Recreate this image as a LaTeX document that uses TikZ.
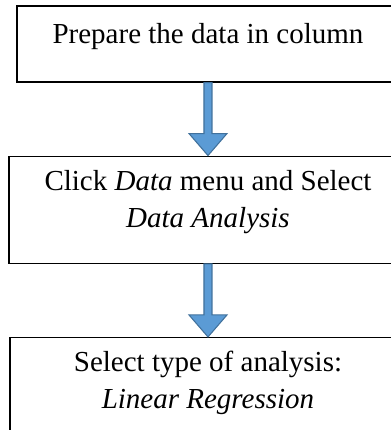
\documentclass[tikz,border=0pt]{standalone}
\usepackage{fontspec}
\setmainfont{Liberation Serif}
\usetikzlibrary{positioning, calc}

\definecolor{arrowfill}{HTML}{5B9BD5}
\definecolor{arrowedge}{HTML}{41719C}

\begin{document}
\begin{tikzpicture}[
    x=0.75pt, y=0.75pt,
    node distance=54.75pt,
    font=\fontsize{21.75}{28}\selectfont,
    stepbox/.style={rectangle, draw=black, line width=0.8pt, align=center, inner xsep=0pt, inner ysep=0pt},
    flowarrow/.style={draw=arrowedge, fill=arrowfill, line width=0.8pt, line join=miter}
]
\useasboundingbox (0,0) rectangle (391,-430);
\begin{scope}
\clip (0,0) rectangle (391,-430);

% Steps
\node[stepbox, minimum width=286.5pt, text height=27.75pt, text depth=29.25pt] (prep) at (208,-44) {Prepare the data in column};
\node[stepbox, minimum width=298.5pt, text height=53.5pt, text depth=27pt, below=of prep] (click) {Click \textit{Data} menu and Select\\\textit{Data Analysis}};
\node[stepbox, minimum width=297pt, text height=53.5pt, text depth=27pt, below=of click] (select) {Select type of analysis:\\\textit{Linear Regression}};

% Block arrows
\draw[flowarrow] ($(prep.south)+(-4,0)$) -- ($(click.north)+(-4,22)$) -- ($(click.north)+(-19,22)$) -- (click.north) -- ($(click.north)+(19,22)$) -- ($(click.north)+(4,22)$) -- ($(prep.south)+(4,0)$) -- cycle;
\draw[flowarrow] ($(click.south)+(-4,0)$) -- ($(select.north)+(-4,22)$) -- ($(select.north)+(-19,22)$) -- (select.north) -- ($(select.north)+(19,22)$) -- ($(select.north)+(4,22)$) -- ($(click.south)+(4,0)$) -- cycle;
\end{scope}

\end{tikzpicture}
\end{document}
